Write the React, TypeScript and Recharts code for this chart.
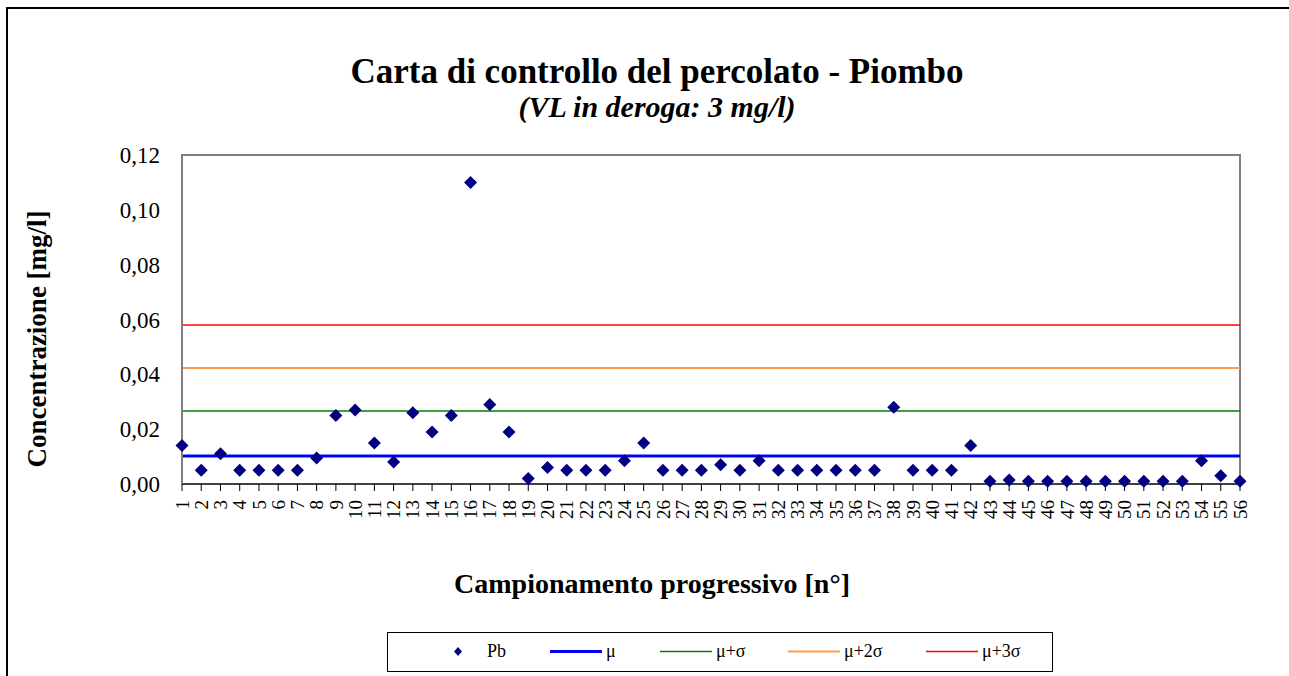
import React from 'react';
import { ComposedChart, Line, Scatter, XAxis, YAxis, ReferenceArea } from 'recharts';

// sample number (x categories)
const SAMPLES = [
  1, 2, 3, 4, 5, 6, 7, 8, 9, 10, 11, 12, 13, 14, 15, 16, 17, 18, 19, 20,
  21, 22, 23, 24, 25, 26, 27, 28, 29, 30, 31, 32, 33, 34, 35, 36, 37, 38, 39, 40,
  41, 42, 43, 44, 45, 46, 47, 48, 49, 50, 51, 52, 53, 54, 55, 56,
];

// Pb concentration [mg/l]
const PB = [
  0.014, 0.005, 0.011, 0.005, 0.005, 0.005, 0.005, 0.0095, 0.025, 0.027,
  0.015, 0.008, 0.026, 0.019, 0.025, 0.11, 0.029, 0.019, 0.002, 0.006,
  0.005, 0.005, 0.005, 0.0085, 0.015, 0.005, 0.005, 0.005, 0.007, 0.005,
  0.0085, 0.005, 0.005, 0.005, 0.005, 0.005, 0.005, 0.028, 0.005, 0.005,
  0.005, 0.014, 0.001, 0.0015, 0.001, 0.001, 0.001, 0.001, 0.001, 0.001,
  0.001, 0.001, 0.001, 0.0085, 0.003, 0.001,
];

// control limits
const LIMIT_KEYS = ['mu', 'mu1', 'mu2', 'mu3'];
const LIMIT_LABELS = ['μ', 'μ+σ', 'μ+2σ', 'μ+3σ'];
const LIMIT_VALUES = [0.0102, 0.0266, 0.0423, 0.058];

const Y_TICKS = [0, 0.02, 0.04, 0.06, 0.08, 0.1, 0.12];
const Y_DOMAIN = [0, 0.12];
const X_DOMAIN = [1, 56];

const LIMIT_COLORS = ['#0000ff', '#008000', '#ff9a4d', '#ff0000'];
const LIMIT_WIDTHS = [3, 1.5, 2, 1.5];
const MARKER = '#000080';
const FONT = '"Liberation Serif", "Times New Roman", serif';

const data = SAMPLES.map((n, i) => {
  const row: Record<string, number> = { n, pb: PB[i] };
  LIMIT_KEYS.forEach((k, j) => {
    row[k] = LIMIT_VALUES[j];
  });
  return row;
});

const Diamond = (props: any) => {
  const { cx, cy } = props;
  if (cx == null || cy == null) return null;
  const r = 6.5;
  return <path d={`M${cx},${cy - r}L${cx + r},${cy}L${cx},${cy + r}L${cx - r},${cy}Z`} fill={MARKER} />;
};

const XTick = (props: any) => {
  const { x, y, payload } = props;
  return (
    <text
      x={x}
      y={y}
      transform={`rotate(-90, ${x}, ${y})`}
      textAnchor="end"
      dy="0.35em"
      fontSize={19}
      fontFamily={FONT}
      fill="#000"
    >
      {payload.value}
    </text>
  );
};

const legendItems = [
  { label: 'Pb', kind: 'marker', color: MARKER, width: 0 },
  ...LIMIT_LABELS.map((label, i) => ({ label, kind: 'line', color: LIMIT_COLORS[i], width: LIMIT_WIDTHS[i] })),
];
const LEGEND_X = [71, 189, 299, 427, 565];

export default function App() {
  return (
    <div
      style={{
        position: 'fixed',
        left: 0,
        top: 0,
        width: 1289,
        height: 676,
        overflow: 'hidden',
        background: '#fff',
        fontFamily: FONT,
      }}
    >
      <div
        style={{
          position: 'absolute',
          left: 6,
          top: 7,
          width: 1400,
          height: 800,
          borderTop: '2px solid #000',
          borderLeft: '2px solid #000',
        }}
      />
      <div style={{ position: 'absolute', left: 0, top: 0 }}>
        <ComposedChart width={1289} height={676} data={data} margin={{ top: 155, right: 49, bottom: 152, left: 122 }}>
          <ReferenceArea
            x1={X_DOMAIN[0]}
            x2={X_DOMAIN[1]}
            y1={Y_DOMAIN[0]}
            y2={Y_DOMAIN[1]}
            fill="none"
            fillOpacity={0}
            stroke="#808080"
            strokeWidth={2}
            strokeOpacity={1}
            ifOverflow="visible"
          />
          <XAxis
            type="number"
            dataKey="n"
            domain={X_DOMAIN}
            ticks={SAMPLES}
            interval={0}
            height={40}
            axisLine={{ stroke: '#000', strokeWidth: 1 }}
            tickLine={{ stroke: '#000' }}
            tickSize={7}
            tickMargin={9}
            tick={<XTick />}
          />
          <YAxis
            type="number"
            domain={Y_DOMAIN}
            ticks={Y_TICKS}
            width={60}
            axisLine={{ stroke: '#808080', strokeWidth: 2 }}
            tickLine={false}
            tickSize={0}
            tickMargin={22}
            tickFormatter={(v: number) => v.toFixed(2).replace('.', ',')}
            tick={{ fontSize: 23, fill: '#000', fontFamily: FONT }}
          />
          {LIMIT_KEYS.map((k, i) => (
            <Line
              key={k}
              type="linear"
              dataKey={k}
              name={LIMIT_LABELS[i]}
              stroke={LIMIT_COLORS[i]}
              strokeWidth={LIMIT_WIDTHS[i]}
              dot={false}
              activeDot={false}
              isAnimationActive={false}
            />
          ))}
          <Scatter dataKey="pb" name="Pb" shape={<Diamond />} isAnimationActive={false} />
        </ComposedChart>
      </div>
      <svg width={1289} height={676} style={{ position: 'absolute', left: 0, top: 0, pointerEvents: 'none' }}>
        <text x={657} y={83} textAnchor="middle" fontSize={35} fontWeight="bold" fontFamily={FONT}>
          Carta di controllo del percolato - Piombo
        </text>
        <text x={657} y={117} textAnchor="middle" fontSize={30} fontWeight="bold" fontStyle="italic" fontFamily={FONT}>
          (VL in deroga: 3 mg/l)
        </text>
        <text
          x={46}
          y={339}
          transform="rotate(-90, 46, 339)"
          textAnchor="middle"
          fontSize={27}
          fontWeight="bold"
          fontFamily={FONT}
        >
          Concentrazione [mg/l]
        </text>
        <text x={652} y={593} textAnchor="middle" fontSize={28} fontWeight="bold" fontFamily={FONT}>
          Campionamento progressivo [n°]
        </text>
        <g transform="translate(387, 632)">
          <rect x={0.5} y={0.5} width={665} height={39} fill="#fff" stroke="#000" strokeWidth={1} />
          {legendItems.map((item, i) => {
            const x = LEGEND_X[i];
            return (
              <g key={item.label}>
                {item.kind === 'marker' ? (
                  <path d={`M${x},${15}L${x + 4},${19.5}L${x},${24}L${x - 4},${19.5}Z`} fill={item.color} />
                ) : (
                  <line x1={x - 26} x2={x + 26} y1={19.5} y2={19.5} stroke={item.color} strokeWidth={item.width} />
                )}
                <text x={item.kind === 'marker' ? x + 29 : x + 30} y={25} fontSize={18} fontFamily={FONT} fill="#000">
                  {item.label}
                </text>
              </g>
            );
          })}
        </g>
      </svg>
    </div>
  );
}
